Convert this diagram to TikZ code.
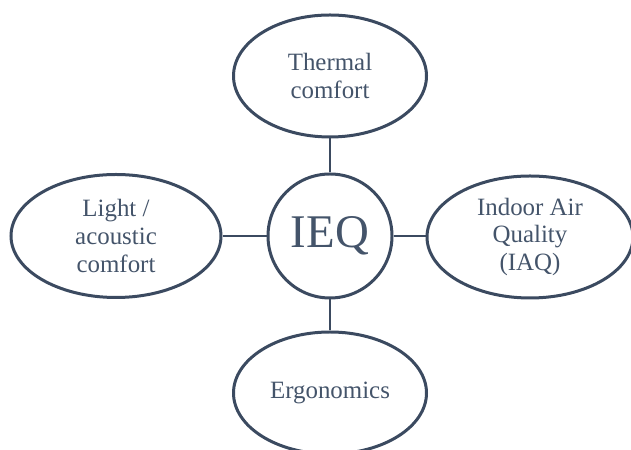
\documentclass[tikz,border=0pt]{standalone}
\usepackage{fontspec}
\setmainfont{Liberation Serif}
\usetikzlibrary{shapes.geometric}
\definecolor{ieqline}{HTML}{3B4A60}
\definecolor{ieqtext}{HTML}{44546A}

\begin{document}
\begin{tikzpicture}[%
  x=1bp, y=1bp,
  aspect/.style={ellipse, draw=ieqline, line width=3bp, inner sep=0pt,
    text=ieqtext, align=center, font=\fontsize{25}{28}\selectfont},
  hub/.style={circle, draw=ieqline, line width=3bp, inner sep=0pt,
    minimum size=124bp, text=ieqtext, font=\fontsize{47}{50}\selectfont},
  link/.style={draw=ieqline, line width=2.2bp}]
  \useasboundingbox (0,0) rectangle (631,450);
  \node[hub] (ieq) at (330,214) {IEQ};
  \node[aspect, minimum width=193bp, minimum height=122bp] (thermal) at (330,374) {Thermal\\comfort};
  \node[aspect, minimum width=210bp, minimum height=123bp] (light) at (116,214) {Light /\\acoustic\\comfort};
  \node[aspect, minimum width=206bp, minimum height=122bp] (iaq) at (530,213) {Indoor Air\\Quality\\(IAQ)};
  \node[aspect, minimum width=193bp, minimum height=122bp] (ergo) at (330,57) {Ergonomics};
  \draw[link] (ieq.north) -- (thermal.south);
  \draw[link] (ieq.west) -- (light.east);
  \draw[link] (ieq.east) -- (ieq.east -| iaq.west);
  \draw[link] (ieq.south) -- (ergo.north);
\end{tikzpicture}
\end{document}
